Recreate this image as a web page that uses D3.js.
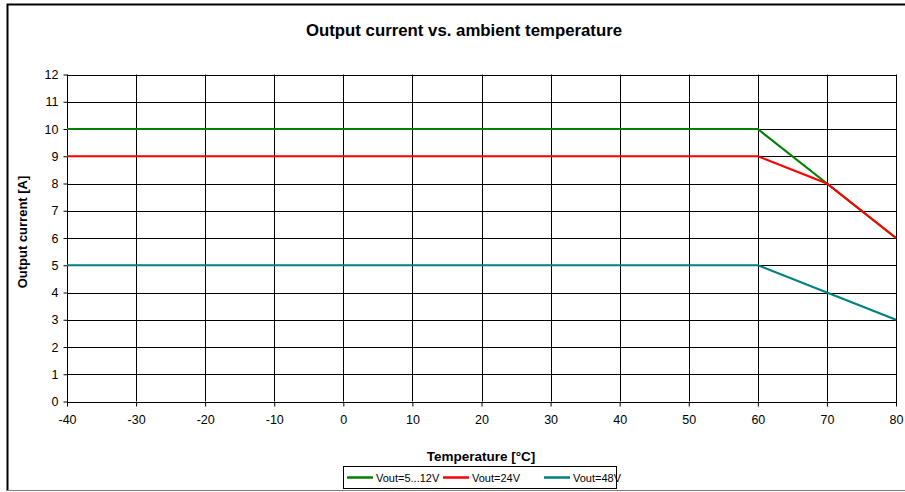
<!DOCTYPE html>
<html><head><meta charset="utf-8">
<script src="https://cdn.jsdelivr.net/npm/d3@7"></script>
<style>body{margin:0;background:#fff}svg{display:block;font-family:"Liberation Sans",Arial,sans-serif}</style>
</head><body><svg id="c" width="905" height="492"></svg>
<script>
const temps = [-40, 60, 70, 80];
const seriesNames = ["Vout=5...12V", "Vout=24V", "Vout=48V"];
const seriesColors = ["#008000", "#FF0000", "#008080"];
const v5_12 = [10, 10, 8, 6];
const v24 = [9, 9, 8, 6];
const v48 = [5, 5, 4, 3];
const xTicks = [-40,-30,-20,-10,0,10,20,30,40,50,60,70,80];
const yTicks = [0,1,2,3,4,5,6,7,8,9,10,11,12];
const title = "Output current vs. ambient temperature";
const xTitle = "Temperature [°C]";
const yTitle = "Output current [A]";

const svg = d3.select("#c");
// outer frame
svg.append("path").attr("d","M7.5,491 V4.5 H905").attr("fill","none").attr("stroke","#000").attr("stroke-width",2);
svg.append("line").attr("x1",7).attr("x2",905).attr("y1",490.5).attr("y2",490.5).attr("stroke","#808080").attr("stroke-width",1);

const L=67, R=896, T=74.5, B=401.5;
const x = d3.scaleLinear().domain([-40,80]).range([L,R]);
const y = d3.scaleLinear().domain([0,12]).range([B,T]);

const g = svg.append("g");
// grid
g.selectAll(".hg").data(yTicks).join("line").attr("x1",L).attr("x2",R)
  .attr("y1",d=>Math.round(y(d))+0.5).attr("y2",d=>Math.round(y(d))+0.5).attr("stroke","#000").attr("stroke-width",1);
g.selectAll(".vg").data(xTicks).join("line").attr("y1",T).attr("y2",B)
  .attr("x1",d=>Math.round(x(d))+0.5).attr("x2",d=>Math.round(x(d))+0.5).attr("stroke","#000").attr("stroke-width",1);
g.append("rect").attr("x",L+0.5).attr("y",Math.round(T)+0.5).attr("width",R-L).attr("height",Math.round(B)-Math.round(T)).attr("fill","none").attr("stroke","#000");

// axes
const fmt = d => String(d);
const ya = svg.append("g").attr("transform",`translate(${L+0.5},0)`).call(d3.axisLeft(y).tickValues(yTicks).tickFormat(fmt).tickSize(4).tickPadding(5));
const xa = svg.append("g").attr("transform",`translate(0,${Math.round(B)+0.5})`).call(d3.axisBottom(x).tickValues(xTicks).tickFormat(fmt).tickSize(4).tickPadding(9));
[ya,xa].forEach(a=>{a.select(".domain").remove();a.selectAll("line").attr("stroke","#000");a.selectAll("text").attr("font-size",12.5).attr("fill","#000").attr("font-family","Liberation Sans, Arial, sans-serif");});

// lines
const allSeries=[v5_12,v24,v48];
const line = d3.line().x((d,i)=>x(temps[i])).y(d=>y(d));
allSeries.forEach((s,k)=>{
  svg.append("path").datum(s).attr("d",line).attr("fill","none").attr("stroke",seriesColors[k]).attr("stroke-width",2.2);
});

// titles
svg.append("text").attr("x",464).attr("y",36).attr("text-anchor","middle").attr("font-size",16.8).attr("font-weight","bold").text(title);
svg.append("text").attr("x",481).attr("y",461).attr("text-anchor","middle").attr("font-size",13.5).attr("font-weight","bold").text(xTitle);
svg.append("text").attr("transform","translate(26.5,232) rotate(-90)").attr("text-anchor","middle").attr("font-size",13).attr("font-weight","bold").text(yTitle);

// legend
svg.append("rect").attr("x",343.5).attr("y",466.5).attr("width",273).attr("height",22).attr("fill","#fff").attr("stroke","#000");
const lx=[347,443,544];
seriesNames.forEach((n,k)=>{
  svg.append("line").attr("x1",lx[k]).attr("x2",lx[k]+26).attr("y1",477.5).attr("y2",477.5).attr("stroke",seriesColors[k]).attr("stroke-width",2.5);
  svg.append("text").attr("x",lx[k]+29).attr("y",481.5).attr("font-size",11).text(n);
});
</script></body></html>
